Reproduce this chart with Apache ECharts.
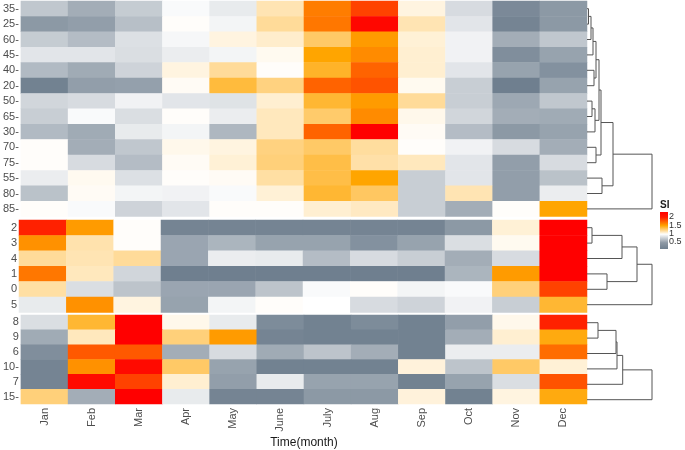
<!DOCTYPE html>
<html>
<head>
<meta charset="utf-8">
<script src="https://cdn.jsdelivr.net/npm/echarts@6/dist/echarts.min.js"></script>
<style>html,body{margin:0;padding:0;background:#fff}#c{width:685px;height:450px}</style>
</head>
<body>
<div id="c"></div>
<script>
// ---------- data ----------
const months = ['Jan','Feb','Mar','Apr','May','June','July','Aug','Sep','Oct','Nov','Dec'];

const rows1 = ['35-','25-','60-','45-','40-','20-','50-','65-','30-','70-','75-','55-','80-','85-'];
const si1 = [
  [0.78,0.68,0.80,0.98,0.92,1.15,1.62,1.80,1.06,0.86,0.54,0.60],
  [0.60,0.62,0.75,1.01,0.96,1.20,1.64,1.98,1.15,0.90,0.52,0.60],
  [0.80,0.74,0.88,0.97,1.06,1.10,1.30,1.53,1.08,0.95,0.68,0.78],
  [0.90,0.90,0.87,0.93,0.96,1.03,1.50,1.58,1.09,0.95,0.56,0.64],
  [0.73,0.67,0.83,1.06,1.20,1.01,1.42,1.70,1.09,0.90,0.64,0.57],
  [0.51,0.62,0.63,1.02,1.38,1.25,1.70,1.75,1.03,0.81,0.50,0.64],
  [0.84,0.86,0.95,0.90,0.89,1.09,1.40,1.53,1.20,0.81,0.66,0.78],
  [0.81,0.98,0.87,1.01,0.93,1.13,1.29,1.58,1.04,0.84,0.68,0.67],
  [0.73,0.67,0.92,0.96,0.72,1.13,1.70,2.00,1.02,0.74,0.60,0.64],
  [1.01,0.68,0.78,1.04,1.06,1.25,1.30,1.19,1.01,0.95,0.86,0.68],
  [1.01,0.86,0.74,1.02,1.08,1.26,1.36,1.17,1.13,0.90,0.62,0.86],
  [0.93,1.03,0.88,1.01,1.02,1.18,1.36,1.50,0.81,0.90,0.62,0.76],
  [0.76,1.02,0.96,0.95,0.98,1.08,1.40,1.31,0.81,1.15,0.62,0.93],
  [1.01,0.98,0.83,0.90,1.01,1.01,1.09,1.12,0.81,0.68,1.01,1.50]
];

const rows2 = ['2','3','4','1','0','5'];
const si2 = [
  [1.90,1.53,1.01,0.52,0.52,0.52,0.52,0.52,0.52,0.60,1.08,2.00],
  [1.56,1.16,1.01,0.65,0.71,0.64,0.64,0.57,0.64,0.87,1.03,2.00],
  [1.20,1.15,1.20,0.65,0.93,0.92,0.74,0.86,0.81,0.68,0.86,2.00],
  [1.64,1.13,0.84,0.50,0.50,0.50,0.50,0.50,0.50,0.71,1.53,2.00],
  [1.18,0.87,0.77,0.65,0.65,0.77,0.98,1.01,0.96,0.98,1.26,1.80],
  [0.92,1.56,1.06,0.64,0.96,1.01,1.00,0.86,0.83,0.95,0.81,1.40]
];

const rows3 = ['8','9','6','10-','7','15-'];
const si3 = [
  [0.87,1.40,2.00,1.04,0.92,0.55,0.51,0.55,0.51,0.62,1.04,1.90],
  [0.67,1.13,2.00,1.26,1.53,0.52,0.51,0.51,0.51,0.68,1.09,1.47],
  [0.56,1.73,1.73,0.68,0.86,0.67,0.77,0.68,0.51,0.93,0.93,1.67],
  [0.52,1.56,1.97,1.30,0.64,0.51,0.51,0.51,1.07,0.77,1.30,1.08],
  [0.52,1.97,1.80,1.09,0.62,0.92,0.64,0.64,0.51,0.64,0.87,1.75],
  [1.26,0.68,2.00,0.92,0.52,0.52,0.60,0.60,1.07,0.51,1.06,1.47]
];

// dendrogram merge trees (leaves = row index, h = merge height)
const tree1 = {h:65, c:[
  {h:26, c:[
    {h:14, c:[
      {h:12, c:[
        {h:9, c:[
          {h:6, c:[{h:4, c:[{h:1.5, c:[0,1]}, 2]}, 3]},
          {h:7, c:[4,5]}
        ]},
        {h:8, c:[{h:5, c:[6,7]}, 8]}
      ]},
      {h:9, c:[9,10]}
    ]},
    {h:15, c:[11,12]}
  ]},
  13
]};
const tree2 = {h:65, c:[
  {h:50, c:[
    {h:35, c:[{h:5, c:[0,1]}, 2]},
    {h:20, c:[3,4]}
  ]},
  5
]};
const tree3 = {h:65, c:[
  {h:35.7, c:[
    {h:30, c:[{h:29, c:[{h:11, c:[0,1]}, 2]}, 3]},
    4
  ]},
  5
]};

const legendTicks = ['2','1.5','1','0.5'];

// ---------- helpers ----------
function heatData(arr){
  const out = [];
  arr.forEach((row, r) => row.forEach((v, c) => out.push([c, r, v])));
  return out;
}
function segments(tree){
  const segs = [];
  function walk(n){
    if (typeof n === 'number') return {h:0, y:n};
    const kids = n.c.map(walk);
    kids.forEach(k => segs.push([k.h, k.y, n.h, k.y]));
    segs.push([n.h, kids[0].y, n.h, kids[1].y]);
    return {h:n.h, y:(kids[0].y + kids[1].y)/2};
  }
  walk(tree);
  return segs;
}

const panels = [
  {rows: rows1, si: si1, tree: tree1, top: 1, h: 215.6},
  {rows: rows2, si: si2, tree: tree2, top: 220, h: 92.4},
  {rows: rows3, si: si3, tree: tree3, top: 315, h: 92.4}
];

const grid = [], xAxis = [], yAxis = [], series = [];
const FONT = 'Liberation Sans, Arial, sans-serif';

panels.forEach((p, i) => {
  const last = i === panels.length - 1;
  grid.push({left: 19, width: 568, top: p.top, height: p.h});
  xAxis.push({
    type: 'category', data: months, gridIndex: i,
    axisLine: {show: false}, axisTick: {show: false}, splitLine: {show: false},
    axisLabel: {show: last, rotate: 90, margin: 4, fontSize: 11, color: '#4d4d4d', fontFamily: FONT},
    name: last ? 'Time(month)' : '', nameLocation: 'middle', nameGap: 33,
    nameTextStyle: {fontSize: 12, color: '#1a1a1a', fontFamily: FONT}
  });
  yAxis.push({
    type: 'category', data: p.rows, gridIndex: i, inverse: true,
    axisLine: {show: false}, axisTick: {show: false}, splitLine: {show: false},
    axisLabel: {margin: 2, fontSize: 11, color: '#4d4d4d', fontFamily: FONT}
  });
  series.push({
    type: 'heatmap', xAxisIndex: i, yAxisIndex: i, data: heatData(p.si),
    itemStyle: {borderWidth: 0}, emphasis: {disabled: true}
  });
});

panels.forEach((p, i) => {
  const gi = panels.length + i;
  grid.push({left: 587, width: 65, top: p.top, height: p.h});
  xAxis.push({type: 'value', gridIndex: gi, min: 0, max: 65, show: false});
  yAxis.push({type: 'value', gridIndex: gi, min: -0.5, max: p.rows.length - 0.5, inverse: true, show: false});
  series.push({
    type: 'custom', xAxisIndex: gi, yAxisIndex: gi, data: segments(p.tree), silent: true,
    renderItem: function(params, api){
      const a = api.coord([api.value(0), api.value(1)]);
      const b = api.coord([api.value(2), api.value(3)]);
      return {type: 'line', shape: {x1: a[0], y1: a[1], x2: b[0], y2: b[1]},
              style: {stroke: '#555', lineWidth: 1}};
    }
  });
});

// legend (drawn as graphic)
const legendGraphic = [
  {type: 'text', left: 660, top: 200, style: {text: 'SI', font: 'bold 10px ' + FONT, fill: '#1a1a1a'}},
  {type: 'rect', shape: {x: 660, y: 212, width: 8, height: 37},
   style: {fill: new echarts.graphic.LinearGradient(0, 0, 0, 1, [
     {offset: 0, color: '#FF0000'},
     {offset: 0.14, color: '#FF1a00'},
     {offset: 0.37, color: '#FFA500'},
     {offset: 0.6, color: '#FFFFFF'},
     {offset: 0.83, color: '#8E99A5'},
     {offset: 1, color: '#6F7F8F'}
   ])}}
];
legendTicks.forEach((t, k) => {
  legendGraphic.push({type: 'text', x: 669, y: 217 + k * 8.3,
    style: {text: t, font: '9px ' + FONT, fill: '#333', textVerticalAlign: 'middle'}});
});

const chart = echarts.init(document.getElementById('c'), null, {renderer: 'canvas'});
chart.setOption({
  animation: false,
  backgroundColor: '#fff',
  grid, xAxis, yAxis, series,
  visualMap: {
    show: false, type: 'continuous', min: 0.5, max: 2, seriesIndex: [0, 1, 2],
    inRange: {color: ['#6F7F8F', '#FFFFFF', '#FFA500', '#FF0000']}
  },
  graphic: legendGraphic
});
</script>
</body>
</html>
